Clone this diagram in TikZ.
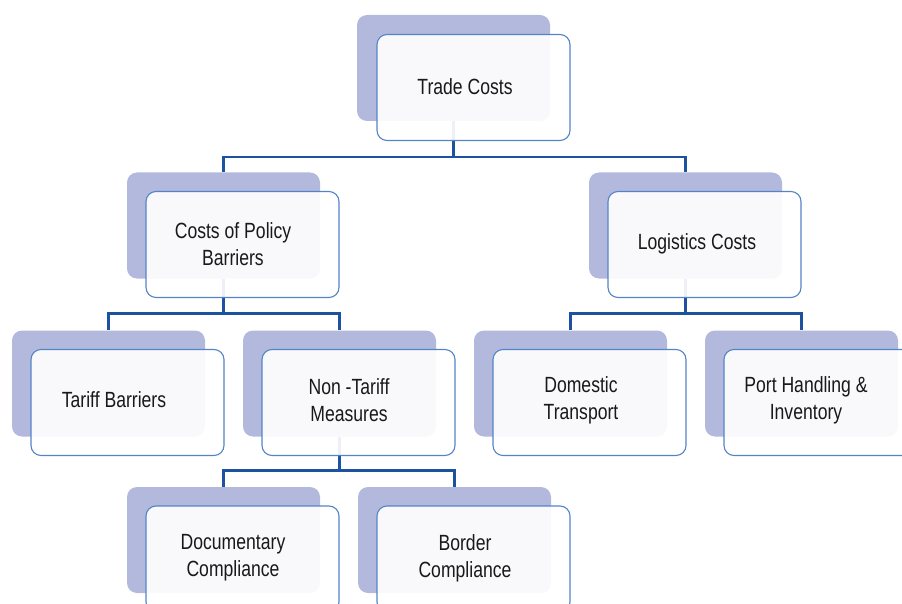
\documentclass[tikz,border=0pt]{standalone}
\usepackage{fontspec}
\setmainfont{Liberation Sans}[FakeStretch=0.8]
\definecolor{lav}{RGB}{179,185,221}
\definecolor{cardline}{RGB}{84,132,200}
\definecolor{linkblue}{RGB}{28,82,160}
\definecolor{ink}{RGB}{25,25,25}

\begin{document}
\begin{tikzpicture}[x=1pt,y=-1pt,
	shadowbox/.style={rectangle,rounded corners=10pt,fill=lav,minimum width=193pt,minimum height=106pt,inner sep=0pt},
	card/.style={rectangle,rounded corners=10pt,draw=cardline,line width=1.1pt,fill=white,fill opacity=0.92,minimum width=193pt,minimum height=106pt,inner sep=0pt},
	boxtext/.style={text=ink,align=center,inner sep=0pt,font=\fontsize{22}{27}\selectfont},
	link/.style={draw=linkblue,line width=2.6pt}]
	
	\useasboundingbox (0,0) rectangle (902,604);
	\clip (0,0) rectangle (902,604);
	
	% back boxes
	\node[shadowbox] (tc-b) at (453.5, 68)   {};
	\node[shadowbox] (cp-b) at (223.5, 225.5) {};
	\node[shadowbox] (lc-b) at (685.5, 225.5) {};
	\node[shadowbox] (tb-b) at (108.5, 383.5) {};
	\node[shadowbox] (nt-b) at (339.5, 383.5) {};
	\node[shadowbox] (dt-b) at (570.5, 383.5) {};
	\node[shadowbox] (ph-b) at (801.5, 383.5) {};
	\node[shadowbox] (dc-b) at (223.5, 540)   {};
	\node[shadowbox] (bc-b) at (454.5, 540)   {};
	
	% connectors
	\draw[link] (tc-b.south) -- ++(0,36) coordinate (tc-j);
	\draw[link] (tc-j) -| (cp-b.north);
	\draw[link] (tc-j) -| (lc-b.north);
	
	\draw[link] (cp-b.south) -- ++(0,35) coordinate (cp-j);
	\draw[link] (cp-j) -| (tb-b.north);
	\draw[link] (cp-j) -| (nt-b.north);
	
	\draw[link] (lc-b.south) -- ++(0,35) coordinate (lc-j);
	\draw[link] (lc-j) -| (dt-b.north);
	\draw[link] (lc-j) -| (ph-b.north);
	
	\draw[link] (nt-b.south) -- ++(0,34) coordinate (nt-j);
	\draw[link] (nt-j) -| (dc-b.north);
	\draw[link] (nt-j) -| (bc-b.north);
	
	% front boxes
	\node[card] (tc) at (473.5, 87.5)  {};
	\node[card] (cp) at (242.5, 244.5) {};
	\node[card] (lc) at (704.5, 244.5) {};
	\node[card] (tb) at (127.5, 402.5) {};
	\node[card] (nt) at (358.5, 402.5) {};
	\node[card] (dt) at (589.5, 402.5) {};
	\node[card] (ph) at (820.5, 402.5) {};
	\node[card] (dc) at (242.5, 559)   {};
	\node[card] (bc) at (473.5, 559)   {};
	
	% texts
	\node[boxtext] (tc-t) at (465, 87)  {Trade Costs};
	\node[boxtext] (cp-t) at (233, 244) {Costs of Policy\\Barriers};
	\node[boxtext] (lc-t) at (697, 244) {Logistics Costs};
	\node[boxtext] (tb-t) at (114, 400) {Tariff Barriers};
	\node[boxtext] (nt-t) at (349, 400) {Non -Tariff\\Measures};
	\node[boxtext] (dt-t) at (581, 400) {Domestic\\Transport};
	\node[boxtext] (ph-t) at (806, 400) {Port Handling \&\\Inventory};
	\node[boxtext] (dc-t) at (233, 558) {Documentary\\Compliance};
	\node[boxtext] (bc-t) at (465, 558) {Border\\Compliance};

\end{tikzpicture}
\end{document}
